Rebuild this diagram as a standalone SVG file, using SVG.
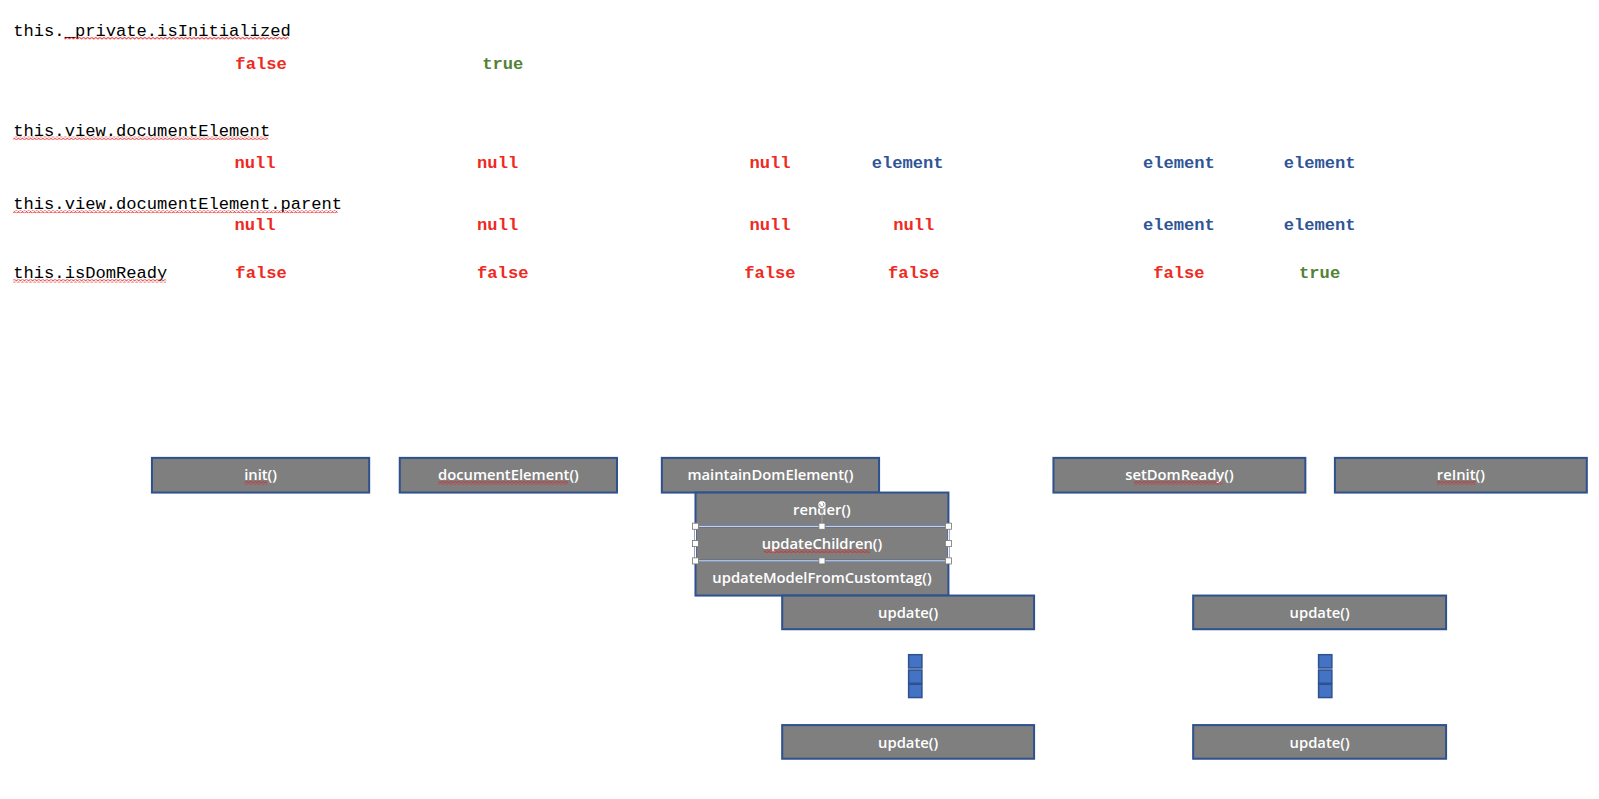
<svg xmlns="http://www.w3.org/2000/svg" width="1599" height="799" viewBox="0 0 1599 799">
<defs>
<pattern id="squig" width="4" height="3" patternUnits="userSpaceOnUse">
<path d="M0 2.5 L2 0.5 L4 2.5" fill="none" stroke="#e02020" stroke-width="0.8"/>
</pattern>
<style>
.lbl{font-family:"Liberation Mono",monospace;font-size:16.8px;fill:#000}
.v{font-family:"Liberation Mono",monospace;font-size:16.8px;font-weight:bold;text-anchor:middle}
.r{fill:#ee2a22}.g{fill:#548235}.b{fill:#2f5597}
.box{fill:#7f7f7f;stroke:#2f528f;stroke-width:2}
.bt{font-family:"Open Sans","Noto Sans",sans-serif;font-size:14.5px;font-weight:600;fill:#fff;text-anchor:middle}
.dot{fill:#4472c4;stroke:#2f528f;stroke-width:1.5}
.h{fill:#fff;stroke:#777;stroke-width:0.8}
</style>
</defs>
<rect width="1599" height="799" fill="#fff"/>
<g transform="scale(1.0198)">
<g id="labels">
<text class="lbl" x="13" y="35">this._private.isInitialized</text>
<text class="lbl" x="13" y="133">this.view.documentElement</text>
<text class="lbl" x="13" y="205">this.view.documentElement.parent</text>
<text class="lbl" x="13" y="273">this.isDomReady</text>
<rect x="63" y="36" width="220" height="3" fill="url(#squig)"/>
<rect x="13" y="134" width="250" height="3" fill="url(#squig)"/>
<rect x="13" y="206" width="318" height="3" fill="url(#squig)"/>
<rect x="13" y="274" width="150" height="3" fill="url(#squig)"/>
</g>
<g id="values">
<text class="v r" x="256" y="68">false</text>
<text class="v g" x="493" y="68">true</text>
<text class="v r" x="250" y="165">null</text>
<text class="v r" x="488" y="165">null</text>
<text class="v r" x="755" y="165">null</text>
<text class="v b" x="890" y="165">element</text>
<text class="v b" x="1156" y="165">element</text>
<text class="v b" x="1294" y="165">element</text>
<text class="v r" x="250" y="226">null</text>
<text class="v r" x="488" y="226">null</text>
<text class="v r" x="755" y="226">null</text>
<text class="v r" x="896" y="226">null</text>
<text class="v b" x="1156" y="226">element</text>
<text class="v b" x="1294" y="226">element</text>
<text class="v r" x="256" y="273">false</text>
<text class="v r" x="493" y="273">false</text>
<text class="v r" x="755" y="273">false</text>
<text class="v r" x="896" y="273">false</text>
<text class="v r" x="1156" y="273">false</text>
<text class="v g" x="1294" y="273">true</text>
</g>
<g id="connectors"></g>
<g id="n-init"><rect class="box" x="149" y="449" width="213" height="34"/><text class="bt" x="255.5" y="471">init()</text><rect x="240" y="472" width="22" height="3" fill="url(#squig)"/></g>
<g id="n-documentElement"><rect class="box" x="392" y="449" width="213" height="34"/><text class="bt" x="498.5" y="471">documentElement()</text><rect x="430" y="472" width="127" height="3" fill="url(#squig)"/></g>
<g id="n-maintainDomElement"><rect class="box" x="649" y="449" width="213" height="34"/><text class="bt" x="755.5" y="471">maintainDomElement()</text></g>
<g id="n-render"><rect class="box" x="682" y="483" width="248" height="33"/><text class="bt" x="806" y="505">render()</text></g>
<g id="n-updateChildren"><rect class="box" x="682" y="516" width="248" height="34"/><text class="bt" x="806" y="538">updateChildren()</text><rect x="749" y="539" width="104" height="3" fill="url(#squig)"/></g>
<g id="n-updateModelFromCustomtag"><rect class="box" x="682" y="550" width="248" height="34"/><text class="bt" x="806" y="572">updateModelFromCustomtag()</text></g>
<g id="selection">
<rect x="682" y="516" width="248" height="34" fill="none" stroke="#fff" stroke-width="1"/>
<line x1="806" y1="497" x2="806" y2="516" stroke="#aaa" stroke-width="0.8"/>
<circle cx="806" cy="495" r="4" fill="#fff" stroke="#777" stroke-width="0.8"/>
<path d="M804 494 a2 2 0 1 0 3 -1" fill="none" stroke="#777" stroke-width="0.8"/>
<rect class="h" x="679" y="513" width="6" height="6"/><rect class="h" x="803" y="513" width="6" height="6"/><rect class="h" x="927" y="513" width="6" height="6"/>
<rect class="h" x="679" y="530" width="6" height="6"/><rect class="h" x="927" y="530" width="6" height="6"/>
<rect class="h" x="679" y="547" width="6" height="6"/><rect class="h" x="803" y="547" width="6" height="6"/><rect class="h" x="927" y="547" width="6" height="6"/>
</g>
<g id="n-update1"><rect class="box" x="767" y="584" width="247" height="33"/><text class="bt" x="890.5" y="606">update()</text></g>
<g id="n-dots1"><rect class="dot" x="891" y="642" width="13" height="13"/><rect class="dot" x="891" y="657" width="13" height="13"/><rect class="dot" x="891" y="671" width="13" height="13"/></g>
<g id="n-update2"><rect class="box" x="767" y="711" width="247" height="33"/><text class="bt" x="890.5" y="733">update()</text></g>
<g id="n-setDomReady"><rect class="box" x="1033" y="449" width="247" height="34"/><text class="bt" x="1156.5" y="471">setDomReady()</text><rect x="1112" y="472" width="86" height="3" fill="url(#squig)"/></g>
<g id="n-reInit"><rect class="box" x="1309" y="449" width="247" height="34"/><text class="bt" x="1432.5" y="471">reInit()</text><rect x="1409" y="472" width="38" height="3" fill="url(#squig)"/></g>
<g id="n-update3"><rect class="box" x="1170" y="584" width="248" height="33"/><text class="bt" x="1294" y="606">update()</text></g>
<g id="n-dots2"><rect class="dot" x="1293" y="642" width="13" height="13"/><rect class="dot" x="1293" y="657" width="13" height="13"/><rect class="dot" x="1293" y="671" width="13" height="13"/></g>
<g id="n-update4"><rect class="box" x="1170" y="711" width="248" height="33"/><text class="bt" x="1294" y="733">update()</text></g>
</g>
</svg>
